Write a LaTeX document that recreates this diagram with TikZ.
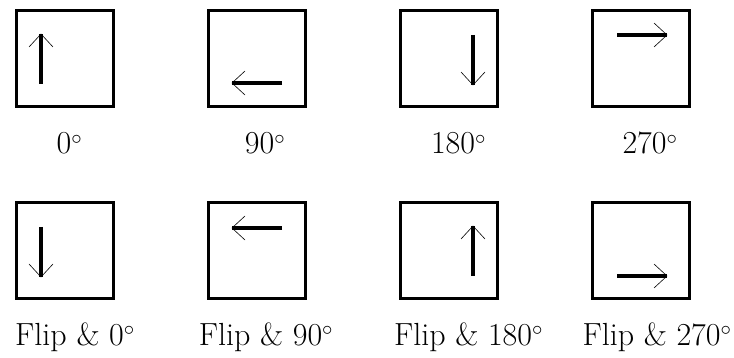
\documentclass[tikz,border=0pt]{standalone}
\begin{document}
\begin{tikzpicture}[x=1pt,y=-1pt,
  frame/.style={draw,line width=3.3pt,minimum width=97pt,minimum height=96pt,inner sep=0pt},
  lab/.style={anchor=base,inner sep=0pt,font=\fontsize{32}{38}\selectfont},
  shaft/.style={line width=3.2pt},
  barb/.style={line width=0.6pt}]
\useasboundingbox (0,0) rectangle (734,358);
\newcommand\myarr[3]{%
  \begin{scope}[shift={(#1,#2)},rotate=#3]
    \draw[shaft] (0,0) -- (50,0);
    \draw[barb] (37,-12) -- (50,0) -- (37,12);
  \end{scope}}
% boxes
\node[frame] (b1) at (65,58.3) {};
\node[frame] (b2) at (257,58.3) {};
\node[frame] (b3) at (449,58.3) {};
\node[frame] (b4) at (641,58.3) {};
\node[frame] (c1) at (65,250.3) {};
\node[frame] (c2) at (257,250.3) {};
\node[frame] (c3) at (449,250.3) {};
\node[frame] (c4) at (641,250.3) {};
% arrows
\myarr{41}{84}{90}
\myarr{282}{83}{180}
\myarr{473}{35}{270}
\myarr{617}{35}{0}
\myarr{41}{227}{270}
\myarr{282}{228}{180}
\myarr{473}{276}{90}
\myarr{617}{276}{0}
% labels
\node[lab] (l1) at (69.5,154) {0$^\circ$};
\node[lab] (l2) at (265,154) {90$^\circ$};
\node[lab] (l3) at (458.5,154) {180$^\circ$};
\node[lab] (l4) at (650,154) {270$^\circ$};
\node[lab] (m1) at (75,345) {Flip \& 0$^\circ$};
\node[lab] (m2) at (266,345) {Flip \& 90$^\circ$};
\node[lab] (m3) at (468.5,345) {Flip \& 180$^\circ$};
\node[lab] (m4) at (657,345) {Flip \& 270$^\circ$};
\end{tikzpicture}
\end{document}
